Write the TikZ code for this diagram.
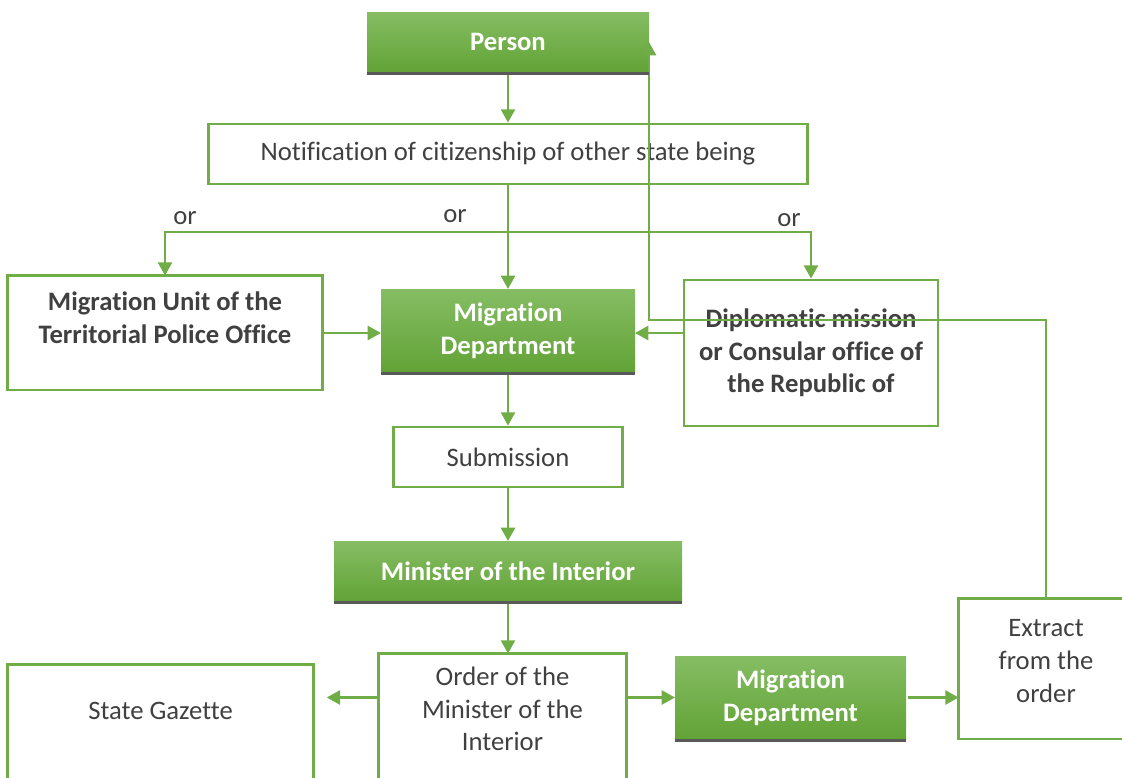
\documentclass[tikz,border=0pt]{standalone}
\usepackage{fontspec}
\setmainfont{Carlito}[Ligatures=NoCommon]
\usetikzlibrary{arrows.meta,calc}
\definecolor{lnGreen}{HTML}{70AD47}
\definecolor{gTop}{HTML}{86BD64}
\definecolor{gBot}{HTML}{62A336}
\definecolor{stripGray}{HTML}{595959}
\definecolor{txtGray}{HTML}{404040}
\begin{document}
\begin{tikzpicture}[x=0.75pt,y=-0.75pt,
  font=\fontsize{20}{24.5}\selectfont, text=txtGray,
  sz/.style 2 args={minimum width=#1*0.75pt, minimum height=#2*0.75pt},
  box/.style={draw=lnGreen, line width=2.1pt, fill=white, align=center, inner sep=0pt},
  gbox/.style={top color=gTop, bottom color=gBot, draw=none, text=white,
    font=\fontsize{20}{24.5}\selectfont\bfseries, align=center, inner sep=0pt, outer sep=0pt},
  ghost/.style={align=center, inner sep=0pt, outer sep=1.05pt},
  border/.style={draw=lnGreen, line width=2.1pt},
  conn/.style={draw=lnGreen, line width=2pt, -{Triangle[length=10pt,width=10.5pt]}},
  strip/.style={fill=stripGray},
  lbl/.style={inner sep=0pt}
]
\useasboundingbox (0,0) rectangle (1122,778);
\clip (0,0) rectangle (1122,778);

% nodes
\node[gbox, sz={282}{60}] (person) at (508,42) {Person};
\node[box, sz={599}{60}] (notif) at (508,154) {Notification of citizenship of other state being};
\node[lbl] (or1) at (185,218) {or};
\node[lbl] (or2) at (455,216) {or};
\node[lbl] (or3) at (789,220) {or};
\node[ghost, sz={312}{82}, font=\fontsize{20}{24.5}\selectfont\bfseries] (unit) at (165,318) {Migration Unit of the\\Territorial Police Office};
\node[gbox, sz={254}{83}] (migdept) at (508,330.5) {Migration\\Department};
\node[box, sz={254}{146}, font=\fontsize{20}{24.5}\selectfont\bfseries] (dipl) at (811,353) {Diplomatic mission\\or Consular office of\\the Republic of};
\node[box, sz={229}{60}] (sub) at (508,457) {Submission};
\node[gbox, sz={348}{60}] (minister) at (508,571) {Minister of the Interior};
\node[ghost, sz={245}{108}] (order) at (502.5,709) {Order of the\\Minister of the\\Interior};
\node[ghost, sz={303}{90}] (gazette) at (160.5,711) {State Gazette};
\node[gbox, sz={231}{83}] (migB) at (790.5,697.5) {Migration\\Department};
\node[ghost, sz={172}{122}] (extract) at (1046,661) {Extract\\from the\\order};

% outlines of boxes whose text sits off-centre or that are cut by the edge
\draw[border] (unit.north west) rectangle (unit.east |- 0,390);
\draw[border] (order.south west |- 0,790) -- (order.north west) -- (order.north east) -- (order.south east |- 0,790);
\draw[border] (gazette.south west |- 0,790) -- (gazette.north west) -- (gazette.north east) -- (gazette.south east |- 0,790);
\draw[border] (extract.north east) ++(20,0) -- (extract.north west) -- (extract.north west |- 0,739) -- (1140,739);

% connectors
\coordinate (split) at (notif.south |- 0,232);
\coordinate (bend) at (person.east |- 0,320);
\draw[conn] (person.south) -- (notif.north);
\draw[conn] (notif.south) -- (migdept.north);
\draw[conn] (split) -| (unit.north);
\draw[conn] (split) -| (dipl.north);
\draw[conn] (unit.east |- 0,333) -- (migdept.west |- 0,333);
\draw[conn] (dipl.west |- 0,333) -- (migdept.east |- 0,333);
\draw[conn] (extract.north) |- (bend) -- (person.east);
\draw[conn] (migdept.south) -- (sub.north);
\draw[conn] (sub.south) -- (minister.north);
\draw[conn] (minister.south) -- (minister.south |- order.north);
\draw[conn, shorten >=10pt] (order.west |- migB.west) -- (gazette.east |- migB.west);
\draw[conn] (order.east |- migB.west) -- (migB.west);
\draw[conn, shorten <=1.5pt] (migB.east) -- (extract.west |- migB.east);

% dark strips under the green boxes
\foreach \n in {person,migdept,minister,migB}
  \fill[strip] (\n.south west) rectangle ([yshift=-2.6pt]\n.south east);
\end{tikzpicture}
\end{document}
